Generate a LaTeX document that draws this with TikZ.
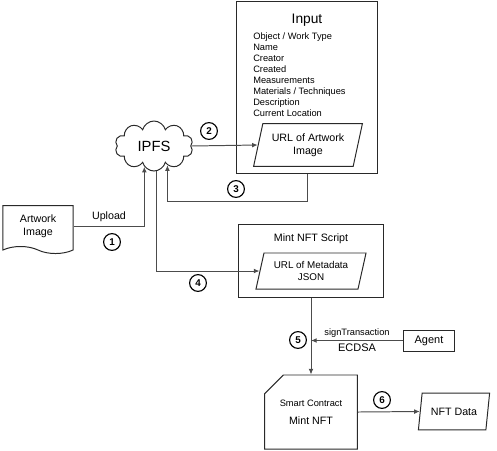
\documentclass[tikz,border=0pt]{standalone}
\usepackage{fontspec}
\setmainfont{Liberation Sans}
\usetikzlibrary{shapes.geometric,shapes.symbols,shapes.misc,arrows.meta,positioning}
\definecolor{MyInk}{rgb}{0.16,0.16,0.16}
\definecolor{MyWire}{rgb}{0.30,0.30,0.30}

\begin{document}
\begin{tikzpicture}[x=0.025cm, y=-0.025cm, >={Latex[length=4pt,width=3.4pt]},
		every node/.style={font=\fontsize{7.6}{9}\selectfont, inner sep=1pt},
		box/.style={draw=MyInk, line width=0.7pt, rectangle},
		para/.style={draw=MyInk, line width=0.7pt, trapezium, trapezium left angle=70,
			trapezium right angle=110, trapezium stretches body, align=center},
		num/.style={draw=black, circle, line width=0.8pt, minimum size=0.42cm, inner sep=0pt,
			font=\fontsize{7}{8}\selectfont\bfseries},
		arrow/.style={->, line width=0.7pt, MyWire}]
		\useasboundingbox (0,0) rectangle (497,450);
		\node[box, minimum width=3.5cm, minimum height=4.275cm] (input) at (307,87.5) {};
		\node[font=\fontsize{9.8}{11}\selectfont] (inputtitle) at (307,20) {Input};
		\node[anchor=north west, align=left, inner sep=0pt, font=\fontsize{6.6}{7.8}\selectfont] (fields) at (253,32.5)
			{Object / Work Type\\Name\\Creator\\Created\\Measurements\\Materials / Techniques\\Description\\Current Location};
		\node[para, minimum width=2.72cm, minimum height=1.07cm] (urlimg) at (308,145) {URL of Artwork\\Image};
		\node[draw=MyInk, line width=0.7pt, cloud, cloud puffs=10, aspect=1.6, minimum width=1.95cm,
			minimum height=1.25cm, inner sep=0pt, font=\fontsize{10.5}{12}\selectfont] (ipfs) at (154,146) {IPFS};
		\node[draw=MyInk, line width=0.7pt, tape, tape bend top=none, tape bend bottom=out and in,
			minimum width=1.75cm, minimum height=1.2cm, align=center] (artwork) at (38,226) {Artwork\\Image};
		\node[box, minimum width=3.6cm, minimum height=1.825cm] (mint) at (311,260.5) {};
		\node (minttitle) at (311,239) {Mint NFT Script};
		\node[para, minimum width=2.75cm, minimum height=0.9cm, font=\fontsize{7}{8.5}\selectfont] (urlmeta) at (311,271) {URL of Metadata\\JSON};
		\node[box, minimum width=1.275cm, minimum height=0.525cm, font=\fontsize{7.8}{9}\selectfont] (agent) at (429,340.5) {Agent};
		\node[draw=MyInk, line width=0.7pt, chamfered rectangle, chamfered rectangle corners=north west,
			chamfered rectangle xsep=14pt, minimum width=1.8cm, minimum height=1.85cm, align=center] (contract) at (311,412)
			{\fontsize{6.6}{8}\selectfont Smart Contract\\[4pt]Mint NFT};
		\node[para, minimum width=1.78cm, minimum height=0.92cm] (nftdata) at (454,411.5) {NFT Data};
		\node (upload) at (109,217) {Upload};
		\node[num] (n1) at (112,242) {1};
		\node[num] (n2) at (209,131) {2};
		\node[num] (n3) at (236,189) {3};
		\node[num] (n4) at (198,283) {4};
		\node[num] (n5) at (298,340) {5};
		\node[num] (n6) at (382,400) {6};
		\draw[arrow] (artwork.east) -| (ipfs.-115);
		\draw[arrow] (ipfs.east) -- (urlimg.west);
		\draw[arrow] (input.south) |- (238,201) -| (ipfs.-55);
		\draw[arrow] (ipfs.-85) |- (urlmeta.west);
		\draw[arrow] (mint.south) -- (contract.north);
		\draw[arrow] (agent.west) -- (agent.west -| mint.south)
			node[midway, above=1pt, text=black, font=\fontsize{6.6}{8}\selectfont] (sign) {signTransaction}
			node[midway, below=1pt, text=black, font=\fontsize{7.8}{9}\selectfont] (ecdsa) {ECDSA};
		\draw[arrow] (contract.east) -- (nftdata.west);
	\end{tikzpicture}
\end{document}
